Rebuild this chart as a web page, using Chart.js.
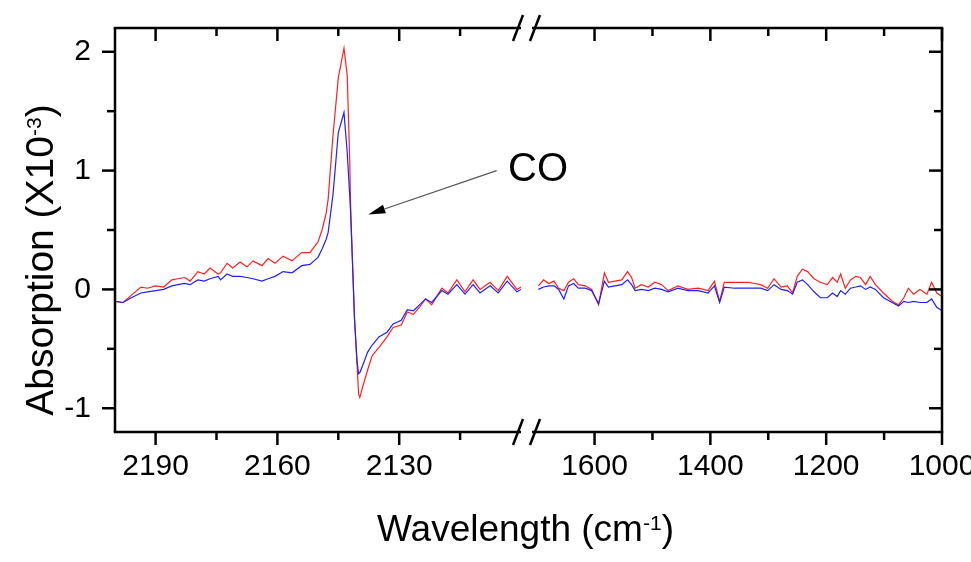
<!DOCTYPE html>
<html>
<head>
<meta charset="utf-8">
<script src="https://cdn.jsdelivr.net/npm/chart.js@4.4.1/dist/chart.umd.min.js"></script>
<style>
	html, body { margin: 0; padding: 0; background: #fff; }
	#wrap { position: relative; width: 971px; height: 562px; font-family: "Liberation Sans", Arial, sans-serif; color: #000; }
	#wrap canvas { position: absolute; left: 0; top: 0; }
	.title { position: absolute; white-space: nowrap; line-height: 44px; }
	.title sup { font-size: 21px; position: relative; top: -6px; vertical-align: top; }
	#xTitle { left: 377px; top: 507px; font-size: 37px; }
	#yTitle { left: -160px; top: 238px; width: 400px; text-align: center; font-size: 39px; transform: rotate(-90deg); }
</style>
</head>
<body>
<div id="wrap">
	<canvas id="leftChart" width="971" height="562"></canvas>
	<canvas id="rightChart" width="971" height="562"></canvas>
	<div class="title" id="xTitle">Wavelength (cm<sup>-1</sup>)</div>
	<div class="title" id="yTitle">Absorption (X10<sup>-3</sup>)</div>
</div>
<script>
document.addEventListener('DOMContentLoaded', function() {
	// Data (absorption x 10^-3)
	// --------------------------------------------------------------------
	const leftWave = [2200, 2198, 2196, 2193.6, 2192, 2190, 2188, 2186, 2184.5, 2182.8, 2181.5, 2179.6, 2178, 2176.6, 2174.6, 2174, 2172.4, 2171, 2169.2, 2167.5, 2166, 2163.8, 2162.3, 2160.6, 2158.6, 2156.4, 2154, 2152, 2150, 2149, 2148, 2147.5, 2146.3, 2145, 2143.6, 2142.8, 2142.2, 2141.9, 2141, 2140.4, 2140, 2139.7, 2139, 2137.8, 2136.7, 2135, 2133, 2131.5, 2129.5, 2128, 2126.5, 2125, 2123.5, 2122, 2119.5, 2118, 2115.8, 2113.8, 2111.8, 2110.1, 2107.6, 2105.6, 2103.4, 2101, 2100];
	const leftRed = [-0.10, -0.11, -0.05, 0.02, 0.01, 0.03, 0.02, 0.08, 0.09, 0.10, 0.07, 0.15, 0.13, 0.18, 0.13, 0.14, 0.22, 0.18, 0.23, 0.19, 0.24, 0.20, 0.26, 0.22, 0.28, 0.24, 0.31, 0.31, 0.40, 0.50, 0.64, 0.76, 1.30, 1.78, 2.03, 1.80, 1.10, 0.60, -0.25, -0.62, -0.88, -0.91, -0.82, -0.68, -0.56, -0.49, -0.40, -0.32, -0.30, -0.19, -0.21, -0.15, -0.08, -0.13, 0.01, -0.03, 0.08, -0.02, 0.08, 0.00, 0.06, -0.01, 0.11, 0.00, 0.02];
	const leftBlue = [-0.10, -0.11, -0.07, -0.03, -0.02, -0.01, 0.00, 0.03, 0.04, 0.05, 0.04, 0.08, 0.07, 0.09, 0.11, 0.08, 0.13, 0.11, 0.11, 0.10, 0.09, 0.07, 0.09, 0.11, 0.15, 0.14, 0.20, 0.21, 0.27, 0.34, 0.42, 0.48, 0.80, 1.32, 1.49, 1.15, 0.80, 0.60, -0.25, -0.60, -0.71, -0.70, -0.64, -0.53, -0.47, -0.40, -0.36, -0.29, -0.26, -0.17, -0.18, -0.13, -0.08, -0.11, -0.01, -0.04, 0.04, -0.04, 0.04, -0.03, 0.03, -0.03, 0.07, -0.02, 0.00];

	const rightWave = [1697, 1688, 1679, 1670, 1662, 1653, 1645, 1636, 1628, 1616, 1605, 1593, 1583, 1576, 1565, 1553, 1543, 1536, 1530, 1519, 1507, 1496, 1484, 1473, 1456, 1439, 1421, 1404, 1393, 1384, 1376, 1358, 1335, 1313, 1301, 1290, 1278, 1267, 1258, 1250, 1241, 1232, 1221, 1210, 1198, 1189, 1181, 1175, 1167, 1158, 1149, 1141, 1132, 1124, 1115, 1101, 1086, 1075, 1066, 1058, 1049, 1038, 1026, 1018, 1009, 1000];
	const rightRed = [0.03, 0.08, 0.05, 0.07, 0.01, -0.01, 0.06, 0.09, 0.04, 0.03, 0.00, -0.13, 0.14, 0.06, 0.07, 0.08, 0.15, 0.10, 0.01, 0.04, 0.02, 0.06, 0.04, -0.01, 0.03, 0.00, 0.01, -0.01, 0.07, -0.10, 0.06, 0.06, 0.06, 0.04, 0.01, 0.09, 0.02, 0.03, -0.03, 0.11, 0.17, 0.15, 0.09, 0.06, 0.04, 0.10, 0.06, 0.13, 0.01, 0.08, 0.11, 0.10, 0.04, 0.11, 0.04, -0.03, -0.10, -0.13, -0.07, 0.01, -0.04, 0.00, -0.04, 0.06, -0.03, -0.06];
	const rightBlue = [0.00, 0.02, 0.03, 0.03, 0.00, -0.08, 0.03, 0.05, 0.01, 0.01, -0.01, -0.12, 0.07, 0.02, 0.03, 0.04, 0.08, 0.04, -0.01, 0.00, -0.01, 0.01, 0.00, -0.02, 0.01, -0.01, -0.01, -0.03, 0.03, -0.11, 0.02, 0.01, 0.01, 0.01, -0.01, 0.04, 0.00, -0.01, -0.04, 0.06, 0.08, 0.04, -0.02, -0.07, -0.07, -0.03, -0.06, -0.01, -0.04, 0.01, 0.02, 0.03, 0.00, 0.02, 0.00, -0.07, -0.11, -0.14, -0.10, -0.11, -0.10, -0.11, -0.11, -0.08, -0.15, -0.18];

	// Axes
	const leftRange = [2100, 2200];
	const rightRange = [1000, 1708];
	const yRange = [-1.2, 2.2];
	const leftTicks = [2190, 2160, 2130];
	const leftMinor = [2175, 2145, 2115];
	const rightTicks = [1600, 1400, 1200, 1000];
	const rightMinor = [1500, 1300, 1100];
	const yTicks = [2, 1, 0, -1];
	const yMinor = [1.5, 0.5, -0.5];

	// Annotation (data coordinates)
	const coLabel = { text: 'CO', at: [2103.2, 0.91] };
	const coArrow = { from: [2106, 1.0], to: [2137.6, 0.63] };

	const redColor = '#ff2020',
		blueColor = '#2020ff',
		black = '#000';

	Chart.defaults.font.family = "'Liberation Sans', Arial, sans-serif";

	function toPoints(xs, ys) {
		return xs.map(function(x, i) { return { x: x, y: ys[i] }; });
	}

	function seg(ctx, x1, y1, x2, y2) {
		ctx.beginPath();
		ctx.moveTo(x1, y1);
		ctx.lineTo(x2, y2);
		ctx.stroke();
	}

	// Frame, ticks and axis break drawn on top of each panel
	// --------------------------------------------------------------------
	const framePlugin = {
		id: 'frame',
		afterDraw: function(chart, args, opts) {
			const ctx = chart.ctx, a = chart.chartArea;
			const xs = chart.scales.x, ys = chart.scales.y;
			const major = 13, minor = 8, lw = 2.5;
			const isLeft = opts.side === 'left';
			ctx.save();
			ctx.strokeStyle = black;
			ctx.lineWidth = lw;
			ctx.lineCap = 'butt';

			// horizontal axis lines
			const hx1 = a.left - (isLeft ? lw / 2 : 0), hx2 = a.right + (isLeft ? 0 : lw / 2);
			seg(ctx, hx1, a.top, hx2, a.top);
			seg(ctx, hx1, a.bottom, hx2, a.bottom);

			// vertical axis line
			const vx = isLeft ? a.left : a.right;
			seg(ctx, vx, a.top, vx, a.bottom);

			// x ticks: bottom outward, top inward
			opts.xMajor.forEach(function(v) {
				const px = xs.getPixelForValue(v);
				seg(ctx, px, a.bottom, px, a.bottom + major);
				seg(ctx, px, a.top, px, a.top + major);
			});
			opts.xMinor.forEach(function(v) {
				const px = xs.getPixelForValue(v);
				seg(ctx, px, a.bottom, px, a.bottom + minor);
				seg(ctx, px, a.top, px, a.top + minor);
			});

			// y ticks: left outward, right inward (both point to smaller x)
			yTicks.forEach(function(v) {
				const py = ys.getPixelForValue(v);
				seg(ctx, vx, py, vx - major, py);
			});
			yMinor.forEach(function(v) {
				const py = ys.getPixelForValue(v);
				seg(ctx, vx, py, vx - minor, py);
			});

			// axis break marks
			const bx = isLeft ? a.right - 3 : a.left + 3;
			[a.top, a.bottom].forEach(function(by) {
				seg(ctx, bx - 5, by + 13, bx + 5, by - 13);
			});

			// annotation
			if (isLeft) {
				const x1 = xs.getPixelForValue(coArrow.from[0]), y1 = ys.getPixelForValue(coArrow.from[1]);
				const x2 = xs.getPixelForValue(coArrow.to[0]), y2 = ys.getPixelForValue(coArrow.to[1]);
				const ang = Math.atan2(y2 - y1, x2 - x1);
				const hl = 17, hw = 4.5;
				const bxh = x2 - hl * Math.cos(ang), byh = y2 - hl * Math.sin(ang);
				ctx.strokeStyle = '#555';
				ctx.lineWidth = 1.2;
				seg(ctx, x1, y1, bxh, byh);
				ctx.fillStyle = black;
				ctx.beginPath();
				ctx.moveTo(x2, y2);
				ctx.lineTo(bxh + hw * Math.sin(ang), byh - hw * Math.cos(ang));
				ctx.lineTo(bxh - hw * Math.sin(ang), byh + hw * Math.cos(ang));
				ctx.closePath();
				ctx.fill();

				ctx.font = "40px 'Liberation Sans', Arial, sans-serif";
				ctx.textBaseline = 'alphabetic';
				ctx.textAlign = 'left';
				ctx.fillText(coLabel.text, xs.getPixelForValue(coLabel.at[0]), ys.getPixelForValue(coLabel.at[1]));
			}
			ctx.restore();
		}
	};

	function panelOptions(side, range, ticks, minorTicks, padding) {
		const isLeft = side === 'left';
		return {
			responsive: false,
			animation: false,
			events: [],
			layout: { padding: padding },
			plugins: {
				legend: { display: false },
				tooltip: { enabled: false },
				frame: { side: side, xMajor: ticks, xMinor: minorTicks }
			},
			elements: {
				point: { radius: 0 },
				line: { borderWidth: 1.2, tension: 0 }
			},
			scales: {
				x: {
					type: 'linear',
					reverse: true,
					min: range[0],
					max: range[1],
					afterBuildTicks: function(scale) {
						scale.ticks = ticks.map(function(v) { return { value: v }; });
					},
					afterFit: function(scale) {
						scale.height = 130;
						scale.paddingLeft = 0;
						scale.paddingRight = 0;
					},
					grid: { display: false, drawTicks: false },
					border: { display: false },
					ticks: {
						color: black,
						font: { size: 30 },
						padding: 17,
						maxRotation: 0,
						autoSkip: false,
						callback: function(v) { return String(v); }
					}
				},
				y: {
					display: isLeft,
					min: yRange[0],
					max: yRange[1],
					afterBuildTicks: function(scale) {
						scale.ticks = yTicks.map(function(v) { return { value: v }; });
					},
					afterFit: function(scale) {
						if (isLeft) scale.width = 115;
						scale.paddingTop = 0;
						scale.paddingBottom = 0;
					},
					grid: { display: false, drawTicks: false },
					border: { display: false },
					ticks: {
						color: black,
						font: { size: 30 },
						padding: 24,
						callback: function(v) { return String(v); }
					}
				}
			}
		};
	}

	// Left panel: 2200 - 2100 cm-1
	// --------------------------------------------------------------------
	new Chart(document.getElementById('leftChart'), {
		type: 'line',
		data: {
			datasets: [
				{ data: toPoints(leftWave, leftBlue), borderColor: blueColor },
				{ data: toPoints(leftWave, leftRed), borderColor: redColor }
			]
		},
		options: panelOptions('left', leftRange, leftTicks, leftMinor, { left: 0, top: 28, right: 450, bottom: 0 }),
		plugins: [framePlugin]
	});

	// Right panel: ~1700 - 1000 cm-1
	// --------------------------------------------------------------------
	new Chart(document.getElementById('rightChart'), {
		type: 'line',
		data: {
			datasets: [
				{ data: toPoints(rightWave, rightBlue), borderColor: blueColor },
				{ data: toPoints(rightWave, rightRed), borderColor: redColor }
			]
		},
		options: panelOptions('right', rightRange, rightTicks, rightMinor, { left: 532, top: 28, right: 29, bottom: 0 }),
		plugins: [framePlugin]
	});
});
</script>
</body>
</html>
